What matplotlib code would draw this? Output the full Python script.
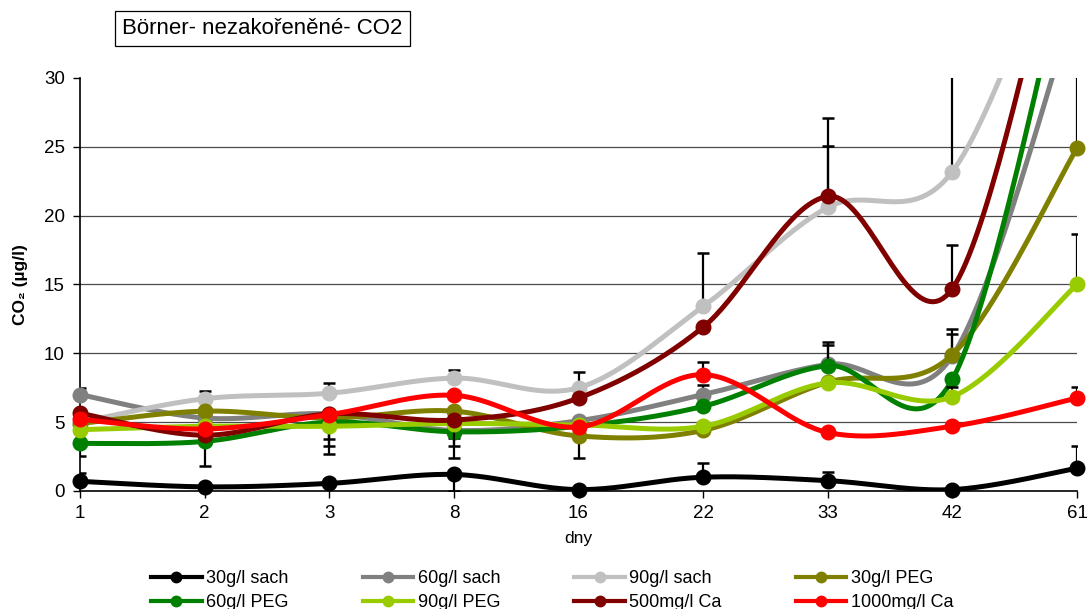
import numpy as np
import matplotlib
matplotlib.use("Agg")
from matplotlib import pyplot as plt
from matplotlib.lines import Line2D

plt.rcParams['font.family'] = ['Liberation Sans', 'DejaVu Sans']

days = ["1", "2", "3", "8", "16", "22", "33", "42", "61"]
names = ["30g/l sach", "60g/l sach", "90g/l sach", "30g/l PEG",
         "60g/l PEG", "90g/l PEG", "500mg/l Ca", "1000mg/l Ca"]
colors = ["#000000", "#808080", "#c0c0c0", "#808000",
          "#008000", "#99cc00", "#800000", "#ff0000"]

sach30 = [0.7, 0.3, 0.55, 1.2, 0.1, 1.0, 0.75, 0.1, 1.65]
sach60 = [7.0, 5.3, 5.6, 4.4, 5.1, 7.0, 9.2, 9.8, 35.9]
sach90 = [5.0, 6.7, 7.1, 8.2, 7.5, 13.4, 20.6, 23.2, 44.6]
peg30 = [4.9, 5.8, 5.3, 5.8, 4.0, 4.4, 7.9, 9.9, 24.9]
peg60 = [3.45, 3.6, 5.0, 4.3, 4.7, 6.15, 9.1, 8.1, 41.9]
peg90 = [4.45, 4.7, 4.7, 4.9, 4.8, 4.7, 7.85, 6.85, 15.0]
ca500 = [5.65, 4.05, 5.6, 5.15, 6.75, 11.9, 21.4, 14.7, 47.0]
ca1000 = [5.2, 4.5, 5.55, 6.95, 4.65, 8.45, 4.25, 4.7, 6.75]

# signed error bars: positive goes up, negative goes down
err_sach30 = [0.6, 0, 0.3, -1.2, 0, 1.0, 0.65, 0, 1.6]
err_sach60 = [0.5, 0, 0, 0, 0, 0.7, 1.4, 1.95, 0]
err_sach90 = [0, 0.55, 0.75, 0.6, 1.15, 3.9, 4.45, 9.0, 0]
err_peg30 = [0, 0, -2.6, -3.4, -1.6, 0, 0, 1.5, 8.0]
err_peg60 = [-0.9, -1.8, -1.2, -0.45, 0, 0, 1.7, 0, 0]
err_peg90 = [0, 0, -1.4, -1.6, 0, 0, 0, 0.7, 3.7]
err_ca500 = [0, 0, 0, 0, 0, 0, 5.7, 3.2, 0]
err_ca1000 = [0, 0, 0, 0, 0, 0.95, 0, 0, 0.8]

series = [sach30, sach60, sach90, peg30, peg60, peg90, ca500, ca1000]
errors = [err_sach30, err_sach60, err_sach90, err_peg30,
          err_peg60, err_peg90, err_ca500, err_ca1000]


def smooth(x, y, n=40):
    # Catmull-Rom style bezier through the points
    x = np.asarray(x, float)
    y = np.asarray(y, float)
    px = np.concatenate([[x[0]], x, [x[-1]]])
    py = np.concatenate([[y[0]], y, [y[-1]]])
    t = np.linspace(0, 1, n)
    xs, ys = [], []
    for i in range(len(x) - 1):
        p0 = np.array([px[i + 1], py[i + 1]])
        p3 = np.array([px[i + 2], py[i + 2]])
        p1 = p0 + (p3 - np.array([px[i], py[i]])) / 6
        p2 = p3 - (np.array([px[i + 3], py[i + 3]]) - p0) / 6
        b = ((1 - t) ** 3)[:, None] * p0 + (3 * (1 - t) ** 2 * t)[:, None] * p1 \
            + (3 * (1 - t) * t ** 2)[:, None] * p2 + (t ** 3)[:, None] * p3
        xs.append(b[:, 0])
        ys.append(b[:, 1])
    return np.concatenate(xs), np.concatenate(ys)


fig = plt.figure(figsize=(10.87, 6.09), dpi=100)
ax = fig.add_axes([0.0736, 0.1938, 0.9172, 0.6782])

x = np.arange(len(days))
for yv in [5, 10, 15, 20, 25]:
    ax.axhline(yv, color="#4a4a4a", lw=0.9, zorder=0)

for k, (vals, errs, c) in enumerate(zip(series, errors, colors)):
    z = 2 + k
    vals = np.array(vals)
    errs = np.array(errs)
    sx, sy = smooth(x, vals)
    ax.plot(sx, sy, color=c, lw=3.6, zorder=z, solid_capstyle="round")
    has = errs != 0
    ends = vals + errs
    ax.vlines(x[has], vals[has], ends[has], color="black", lw=1.6, zorder=z)
    ax.plot(x[has], ends[has], ls="none", marker="_", ms=9, mew=1.8,
            color="black", zorder=z)
    ok = vals <= 30
    ax.plot(x[ok], vals[ok], ls="none", marker="o", ms=10.5, color=c,
            zorder=z, clip_on=False)

ax.set_xlim(0, 8)
ax.set_ylim(0, 30)
ax.set_xticks(x)
ax.set_xticklabels(days, fontsize=13.5)
ax.set_yticks([0, 5, 10, 15, 20, 25, 30])
ax.tick_params(axis="y", labelsize=13.5, length=5, width=1, pad=6)
ax.tick_params(axis="x", length=5, width=1, pad=5)
for s in ["top", "right"]:
    ax.spines[s].set_visible(False)
ax.spines["left"].set_linewidth(1.2)
ax.spines["bottom"].set_linewidth(1.2)

ax.set_xlabel("dny", fontsize=12.5)
ax.xaxis.set_label_coords(0.4996, -0.098)
ax.set_ylabel("CO₂ (µg/l)", fontsize=12.5, fontweight="bold")
ax.yaxis.set_label_coords(-0.052, 0.5)

fig.text(0.1122, 0.953, "Börner- nezakořeněné- CO2", fontsize=16,
         va="center", ha="left",
         bbox=dict(boxstyle="square,pad=0.33", fc="white", ec="black", lw=0.9))

handles = [Line2D([], [], color=c, lw=3, marker="o", ms=7.5) for c in colors]
order = [0, 4, 1, 5, 2, 6, 3, 7]
fig.legend([handles[i] for i in order], [names[i] for i in order],
           ncol=4, loc="upper left", bbox_to_anchor=(0.139, 0.064),
           frameon=False, fontsize=13, handlelength=2.8, handletextpad=0.25,
           columnspacing=4.1, labelspacing=0.38, borderpad=0, borderaxespad=0)

fig.savefig("out.png", dpi=100)
